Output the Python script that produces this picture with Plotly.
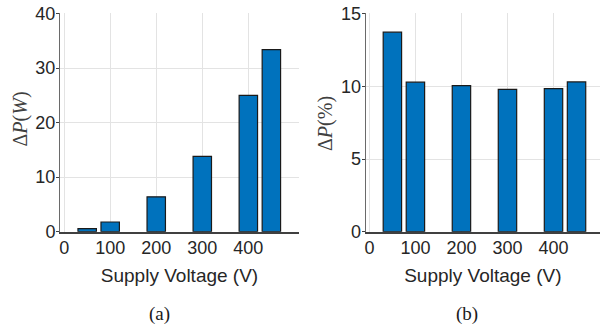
import plotly.graph_objects as go

voltage = [50, 100, 200, 300, 400, 450]
delta_p_w = [0.55, 1.78, 6.4, 13.8, 25.0, 33.4]
delta_p_pct = [13.72, 10.28, 10.05, 9.79, 9.84, 10.3]
x_ticks = [0, 100, 200, 300, 400]
y_ticks_a = [0, 10, 20, 30, 40]
y_ticks_b = [0, 5, 10, 15]

W, H = 600, 327


def px(x):
    return x / W


def py(y):
    return 1 - y / H


bar_color = "#0072BD"
axis_color = "#404040"
grid_color = "#E3E3E3"
tick_font = dict(family="Liberation Sans, Arial, sans-serif", size=18, color="#262626")
title_font = dict(family="Liberation Sans, Arial, sans-serif", size=19, color="#262626")

fig = go.Figure()
fig.add_trace(go.Bar(x=voltage, y=delta_p_w, width=40, xaxis="x", yaxis="y",
                     marker=dict(color=bar_color, line=dict(color="#1a1a1a", width=1.2))))
fig.add_trace(go.Bar(x=voltage, y=delta_p_pct, width=40, xaxis="x2", yaxis="y2",
                     marker=dict(color=bar_color, line=dict(color="#1a1a1a", width=1.2))))

common_x = dict(range=[-9, 510], tickvals=x_ticks, showgrid=True, gridcolor=grid_color, gridwidth=1,
                showline=True, linecolor=axis_color, linewidth=1.5, ticks="", zeroline=False,
                tickfont=tick_font, automargin=False, ticklabelstandoff=-1,
                title=dict(text="Supply Voltage (V)", font=title_font, standoff=12))
common_y = dict(showgrid=True, gridcolor=grid_color, gridwidth=1, showline=True, linecolor="#6a6a6a",
                linewidth=1, ticks="outside", ticklen=3, tickcolor="#404040", zeroline=False,
                tickfont=tick_font, automargin=False, ticklabelstandoff=-3)

ydom = [py(231.7), py(13.3)]
fig.update_layout(
    template="none",
    width=W, height=H,
    margin=dict(l=0, r=0, t=0, b=0),
    paper_bgcolor="white", plot_bgcolor="white",
    showlegend=False,
    xaxis=dict(domain=[px(60), px(299)], anchor="y", **common_x),
    yaxis=dict(domain=ydom, anchor="x", range=[0, 40.05], tickvals=y_ticks_a, **common_y),
    xaxis2=dict(domain=[px(365.7), 1.0], anchor="y2", **{**common_x, "range": [-8, 501]}),
    yaxis2=dict(domain=ydom, anchor="x2", range=[0, 15.02], tickvals=y_ticks_b, **common_y),
)

label_font = dict(family="Liberation Serif, Times New Roman, serif", size=20, color="#404040")
fig.add_annotation(text="Δ<i>P</i>(<i>W</i>)", xref="paper", yref="paper", x=px(19.5), y=py(119),
                   showarrow=False, textangle=-90, font=label_font, xanchor="center", yanchor="middle")
fig.add_annotation(text="Δ<i>P</i>(%)", xref="paper", yref="paper", x=px(325), y=py(124),
                   showarrow=False, textangle=-90, font=label_font, xanchor="center", yanchor="middle")

cap_font = dict(family="Liberation Serif, Times New Roman, serif", size=19, color="#1a1a1a")
fig.add_annotation(text="(a)", xref="paper", yref="paper", x=px(159), y=py(314),
                   showarrow=False, font=cap_font, xanchor="center", yanchor="middle")
fig.add_annotation(text="(b)", xref="paper", yref="paper", x=px(467), y=py(314),
                   showarrow=False, font=cap_font, xanchor="center", yanchor="middle")

fig.write_html("out.html",
               config={"displayModeBar": False},
               post_script="document.body.style.margin='0';document.body.style.overflow='hidden';")
